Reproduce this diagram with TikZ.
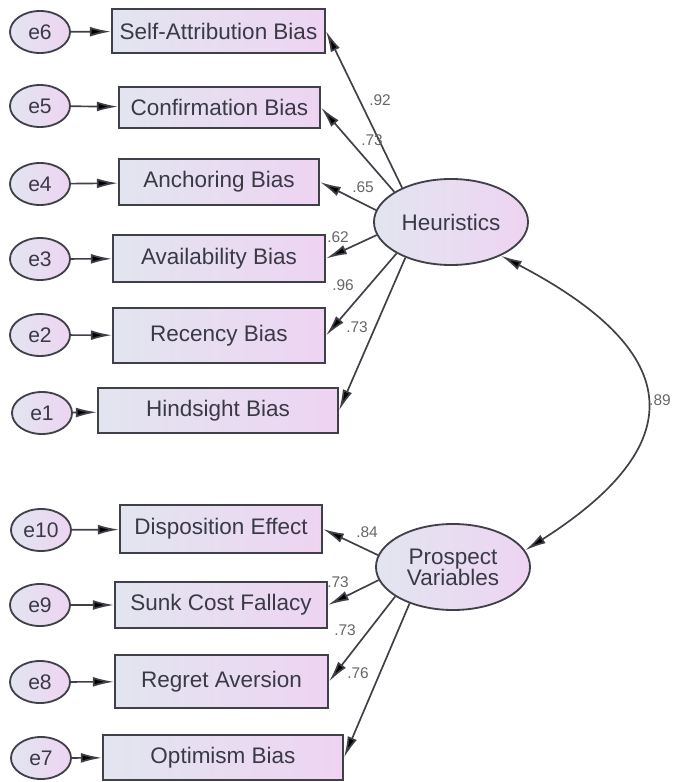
\documentclass[tikz,border=0pt]{standalone}
\usepackage{fontspec}
\setmainfont{Liberation Sans}
\usetikzlibrary{arrows.meta,shapes.geometric}
\definecolor{fillL}{RGB}{226,229,240}
\definecolor{fillR}{RGB}{238,212,242}
\definecolor{ink}{RGB}{58,58,70}
\definecolor{rim}{RGB}{64,64,72}

\begin{document}
\begin{tikzpicture}[x=0.025cm, y=-0.025cm,
	every node/.style={font=\fontsize{16}{15}\selectfont, text=ink},
	err/.style={ellipse, draw=rim, line width=1.3pt, left color=fillL, right color=fillR, minimum width=1.5cm, minimum height=1.05cm, inner sep=0pt, font=\fontsize{15}{15}\selectfont},
	obs/.style={rectangle, draw=rim, line width=1.4pt, left color=fillL, right color=fillR, inner sep=0pt},
	lat/.style={ellipse, draw=rim, line width=1.3pt, left color=fillL, right color=fillR, minimum width=3.85cm, minimum height=2.15cm, inner sep=0pt},
	load/.style={draw=rim, line width=1.2pt, -{Latex[length=15pt,width=7pt,fill=black]}},
	cov/.style={draw=rim, line width=1.2pt, {Latex[length=15pt,width=7pt,fill=black]}-{Latex[length=15pt,width=7pt,fill=black]}},
	wt/.style={font=\fontsize{11}{11}\selectfont, text=black!60}]
				\useasboundingbox (0,0) rectangle (672,782);
				
				% error terms
				\node[err] (e6) at (40,32){e6};
				\node[err] (e5) at (40,106){e5};
				\node[err] (e4) at (40,184){e4};
				\node[err] (e3) at (40,259){e3};
				\node[err] (e2) at (40,335){e2};
				\node[err] (e1) at (42,413){e1};
				\node[err] (e10) at (41,530){e10};
				\node[err] (e9) at (40,605){e9};
				\node[err] (e8) at (40,682){e8};
				\node[err] (e7) at (41,758){e7};
				
				% observed variables
				\node[obs, minimum width=5.325cm, minimum height=1.1cm] (sab) at (218.5,31){Self-Attribution Bias};
				\node[obs, minimum width=5.025cm, minimum height=1.025cm] (conf) at (219.5,107.5){Confirmation Bias};
				\node[obs, minimum width=5cm, minimum height=1.15cm] (anch) at (219,182){Anchoring Bias};
				\node[obs, minimum width=5.3cm, minimum height=1.175cm] (avail) at (219,258.5){Availability Bias};
				\node[obs, minimum width=5.3cm, minimum height=1.375cm] (rec) at (219,335.5){Recency Bias};
				\node[obs, minimum width=6cm, minimum height=1.125cm] (hind) at (218,410.5){Hindsight Bias};
				\node[obs, minimum width=5.05cm, minimum height=1.2cm] (disp) at (221,529){Disposition Effect};
				\node[obs, minimum width=5.3cm, minimum height=1.15cm] (sunk) at (221,605){Sunk Cost Fallacy};
				\node[obs, minimum width=5.325cm, minimum height=1.325cm] (regr) at (221.5,681.5){Regret Aversion};
				\node[obs, minimum width=6cm, minimum height=1.125cm] (opt) at (223,757.5){Optimism Bias};
				
				% latent variables
				\node[lat] (heur) at (451,222){Heuristics};
				\node[lat, align=center] (prosp) at (453,567){Prospect\\Variables};
				
				\path (e6) edge[load] (sab);
				\path (e5) edge[load] (conf);
				\path (e4) edge[load] (anch);
				\path (e3) edge[load] (avail);
				\path (e2) edge[load] (rec);
				\path (e1) edge[load] (hind);
				\path (e10) edge[load] (disp);
				\path (e9) edge[load] (sunk);
				\path (e8) edge[load] (regr);
				\path (e7) edge[load] (opt);
				
				\path (heur.145) edge[load] (sab.east);
				\path (heur.152) edge[load] (conf.east);
				\path (heur.171) edge[load] (anch.east);
				\path (heur.190) edge[load] (avail.east);
				\path (heur.210) edge[load] (rec.east);
				\path (heur.218) edge[load] (hind.east);
				\path (prosp.171) edge[load] (disp.east);
				\path (prosp.190) edge[load] (sunk.east);
				\path (prosp.207) edge[load] (regr.east);
				\path (prosp.220) edge[load] (opt.east);
				
				\draw[cov] (heur.-34) .. controls (689,354) and (689,446) .. (prosp.13);
				
				% weights
				\node[wt] (w1) at (380,100){.92};
				\node[wt] (w2) at (372,140){.73};
				\node[wt] (w3) at (363,187){.65};
				\node[wt] (w4) at (338,237){.62};
				\node[wt] (w5) at (343,285){.96};
				\node[wt] (w6) at (357,327){.73};
				\node[wt, anchor=east, inner sep=0pt] (w7) at (671,400){.89};
				\node[wt] (w8) at (367,532){.84};
				\node[wt] (w9) at (338,582){.73};
				\node[wt] (w10) at (345,630){.73};
				\node[wt] (w11) at (358,673){.76};
				\end{tikzpicture}
\end{document}
